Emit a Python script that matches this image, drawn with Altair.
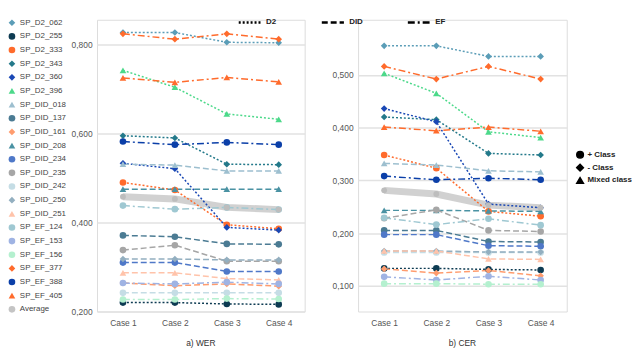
import altair as alt
import pandas as pd

cases = ["Case 1", "Case 2", "Case 3", "Case 4"]

series = ["SP_D2_062", "SP_D2_255", "SP_D2_333", "SP_D2_343", "SP_D2_360", "SP_D2_396",
          "SP_DID_018", "SP_DID_137", "SP_DID_161", "SP_DID_208", "SP_DID_234", "SP_DID_235",
          "SP_DID_242", "SP_DID_250", "SP_DID_251", "SP_EF_124", "SP_EF_153", "SP_EF_156",
          "SP_EF_377", "SP_EF_388", "SP_EF_405", "Average"]

groups = ["D2", "D2", "D2", "D2", "D2", "D2",
          "DID", "DID", "DID", "DID", "DID", "DID",
          "DID", "DID", "DID", "EF", "EF", "EF",
          "EF", "EF", "EF", "Average"]

classes = ["- Class", "+ Class", "+ Class", "- Class", "- Class", "Mixed class",
           "Mixed class", "+ Class", "- Class", "Mixed class", "+ Class", "+ Class",
           "+ Class", "- Class", "Mixed class", "+ Class", "+ Class", "+ Class",
           "- Class", "+ Class", "Mixed class", "+ Class"]

colors = ["#5b9db7", "#0d3b52", "#ff6b2c", "#23798a", "#1a48b5", "#4cd98a",
          "#9dbfcf", "#4b7b93", "#ff9c6e", "#4a92a3", "#4f78c8", "#a6a6a6",
          "#c5dde5", "#93afc0", "#ffc3aa", "#9fc8d2", "#9fb3e3", "#b4f0cf",
          "#ff6b2c", "#0b3fa8", "#ff6b2c", "#c4c4c4"]

# WER values, one list per case (order follows `series`)
wer_case1 = [0.827, 0.220, 0.490, 0.595, 0.533, 0.742, 0.531, 0.371, 0.264, 0.475, 0.310, 0.338,
             0.242, 0.318, 0.287, 0.438, 0.264, 0.227, 0.824, 0.582, 0.725, 0.458]
wer_case2 = [0.827, 0.220, 0.473, 0.590, 0.521, 0.704, 0.529, 0.368, 0.258, 0.475, 0.310, 0.349,
             0.242, 0.318, 0.287, 0.430, 0.262, 0.227, 0.812, 0.575, 0.715, 0.453]
wer_case3 = [0.805, 0.217, 0.395, 0.531, 0.389, 0.644, 0.516, 0.352, 0.262, 0.475, 0.290, 0.313,
             0.242, 0.316, 0.274, 0.434, 0.266, 0.229, 0.824, 0.580, 0.726, 0.434]
wer_case4 = [0.804, 0.216, 0.386, 0.530, 0.383, 0.632, 0.516, 0.351, 0.257, 0.475, 0.290, 0.313,
             0.242, 0.316, 0.271, 0.429, 0.262, 0.228, 0.812, 0.575, 0.716, 0.429]

# CER values, one list per case
cer_case1 = [0.555, 0.133, 0.348, 0.420, 0.436, 0.503, 0.332, 0.205, 0.132, 0.243, 0.197, 0.228,
             0.163, 0.166, 0.166, 0.229, 0.117, 0.104, 0.516, 0.308, 0.401, 0.281]
cer_case2 = [0.555, 0.133, 0.323, 0.415, 0.411, 0.465, 0.329, 0.205, 0.124, 0.243, 0.197, 0.244,
             0.163, 0.166, 0.166, 0.216, 0.111, 0.104, 0.492, 0.301, 0.394, 0.274]
cer_case3 = [0.535, 0.131, 0.241, 0.351, 0.255, 0.392, 0.318, 0.184, 0.129, 0.242, 0.176, 0.205,
             0.163, 0.164, 0.151, 0.227, 0.118, 0.103, 0.516, 0.304, 0.401, 0.253]
cer_case4 = [0.535, 0.130, 0.232, 0.348, 0.248, 0.381, 0.316, 0.183, 0.119, 0.241, 0.175, 0.203,
             0.163, 0.164, 0.150, 0.215, 0.111, 0.103, 0.492, 0.301, 0.393, 0.248]

class_names = ["+ Class", "- Class", "Mixed class"]
class_shapes = ["circle", "diamond", "triangle-up"]
group_names = ["D2", "DID", "EF"]
group_dashes = [[2, 2], [6, 3], [7, 3, 2, 3]]

wer_ticks = [0.2, 0.4, 0.6, 0.8]
cer_ticks = [0.1, 0.2, 0.3, 0.4, 0.5]
wer_domain = [0.2, 0.8556]
cer_domain = [0.0512, 0.6044]


def to_long(per_case):
    rows = []
    for ci, case in enumerate(cases):
        for si, s in enumerate(series):
            rows.append({"series": s, "group": groups[si], "cls": classes[si],
                         "case": case, "value": per_case[ci][si]})
    return pd.DataFrame(rows)


wer_df = to_long([wer_case1, wer_case2, wer_case3, wer_case4])
cer_df = to_long([cer_case1, cer_case2, cer_case3, cer_case4])

diamonds = [s for s, c in zip(series, classes) if c == "- Class"]
triangles = [s for s, c in zip(series, classes) if c == "Mixed class"]
shape_expr = (f"indexof({diamonds}, datum.value) >= 0 ? 'diamond' : "
              f"(indexof({triangles}, datum.value) >= 0 ? 'triangle-up' : 'circle')")

color_scale = alt.Scale(domain=series, range=colors)
shape_scale = alt.Scale(domain=class_names, range=class_shapes)
dash_scale = alt.Scale(domain=group_names, range=group_dashes)

color_legend = alt.Legend(title=None, orient="none", legendX=-90, legendY=-1, labelFontSize=8,
                          labelColor="#444", symbolSize=45, rowPadding=5.8, labelOffset=4,
                          symbolType=alt.ExprRef(expr=shape_expr),
                          symbolStrokeWidth=0, symbolOpacity=1)
shape_legend = alt.Legend(title=None, orient="none", legendX=484, legendY=132, labelFontSize=8,
                          labelFontWeight="bold", labelColor="#222", symbolSize=45, labelOffset=3,
                          symbolFillColor="black", symbolStrokeColor="black", rowPadding=0)
dash_legend = alt.Legend(title=None, orient="none", legendX=142, legendY=-10, direction="horizontal",
                         labelFontSize=8, labelFontWeight="bold", labelColor="#222",
                         symbolType="stroke", symbolStrokeColor="black", symbolStrokeWidth=2.5,
                         symbolSize=500, columnPadding=40)


def panel(df, ydomain, yticks, title, width):
    x = alt.X("case:N", sort=cases,
              axis=alt.Axis(title=None, labelAngle=0, domain=False, ticks=False, labelPadding=7,
                            grid=False, labelFontSize=8.5, labelColor="#555"))
    y = alt.Y("value:Q", scale=alt.Scale(domain=ydomain, nice=False, zero=False),
              axis=alt.Axis(title=None, values=yticks, format=".3f",
                            labelExpr="replace(datum.label, '.', ',')",
                            domain=False, ticks=False, labelPadding=5, labelFontSize=8.5,
                            labelColor="#555", gridColor="#e2e2e2", gridWidth=1.5))
    base = alt.Chart(df)
    main = base.transform_filter(alt.datum.series != "Average")
    avg = base.transform_filter(alt.datum.series == "Average")
    avg_line = avg.mark_line(strokeWidth=7, color="#c9c9c9", opacity=0.85).encode(x=x, y=y)
    lines = main.mark_line(strokeWidth=1.5).encode(
        x=x, y=y,
        color=alt.Color("series:N", scale=color_scale, legend=color_legend),
        strokeDash=alt.StrokeDash("group:N", scale=dash_scale, legend=dash_legend),
        detail="series:N")
    pts = main.mark_point(filled=True, size=45, opacity=1).encode(
        x=x, y=y,
        color=alt.Color("series:N", scale=color_scale, legend=color_legend),
        shape=alt.Shape("cls:N", scale=shape_scale, legend=shape_legend))
    avg_pts = avg.mark_point(filled=True, shape="circle", size=35, color="#bdbdbd", opacity=1).encode(x=x, y=y)
    return alt.layer(avg_line, lines, pts, avg_pts).properties(
        width=width, height=295,
        title=alt.TitleParams(title, orient="bottom", fontSize=8.5, fontWeight="normal",
                              color="#333", offset=12))


wer_chart = panel(wer_df, wer_domain, wer_ticks, "a) WER", 210)
cer_chart = panel(cer_df, cer_domain, cer_ticks, "b) CER", 211)

chart = alt.hconcat(wer_chart, cer_chart, spacing=26).properties(
    padding=0
).configure_view(stroke=None).configure(font="Liberation Sans")

chart.save("out.html", embed_options={"renderer": "svg", "actions": False})
